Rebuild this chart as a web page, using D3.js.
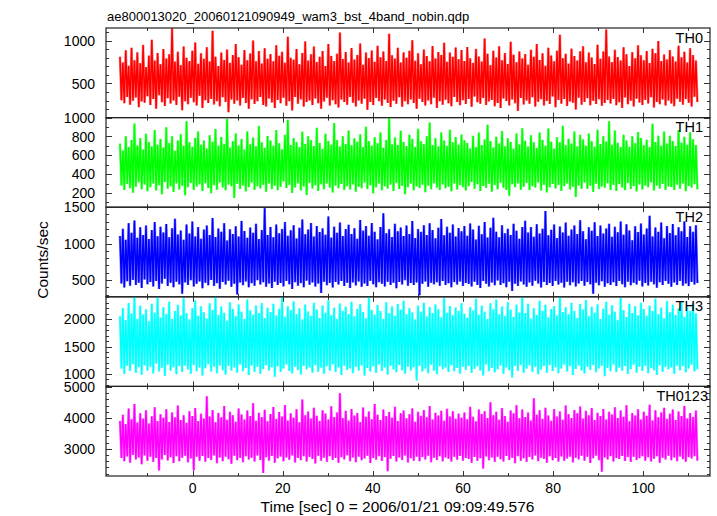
<!DOCTYPE html>
<html>
<head>
<meta charset="utf-8">
<script src="https://cdn.jsdelivr.net/npm/d3@7"></script>
<style>
  html, body { margin: 0; padding: 0; background: #fff; }
  svg { display: block; font-family: "Liberation Sans", Arial, Helvetica, sans-serif; }
</style>
</head>
<body>
<svg id="chart" width="717" height="516"></svg>
<script>
// ---------------- DATA ----------------
const title = "ae800013020_20060121090949_wam3_bst_4band_nobin.qdp";
const xLabel = "Time [sec] 0 = 2006/01/21 09:09:49.576";
const yLabel = "Counts/sec";
const panelNames = ["TH0", "TH1", "TH2", "TH3", "TH0123"];
const timeStart = -16.1, timeEnd = 112.0;
const xTickLabels = [0, 20, 40, 60, 80, 100];

const th0 = [
812,304,745,268,889,342,706,251,918,297,771,336,864,223,738,288,952,274,693,351,
826,247,1012,318,768,205,857,362,724,281,903,236,793,327,842,266,1146,301,757,248,
871,345,712,186,934,293,802,258,763,334,884,279,981,243,731,356,853,214,788,303,
924,272,757,318,1118,254,814,292,703,232,862,339,776,284,897,162,741,313,834,262,
963,301,806,243,718,329,893,271,772,203,851,314,1004,259,761,291,879,342,733,248,
912,231,788,325,846,278,759,214,947,306,824,268,872,333,742,238,1048,292,801,183,
779,341,903,262,724,314,858,229,993,283,769,301,843,247,932,324,751,268,812,205,
881,289,704,333,962,241,823,305,762,257,849,218,1097,311,787,283,868,252,746,343,
914,274,781,231,834,302,968,263,719,322,863,193,798,284,887,249,754,331,942,292,
806,238,873,313,762,271,1083,224,831,297,793,263,918,339,744,228,864,293,802,256,
884,313,1006,272,767,204,853,321,725,283,897,242,822,301,761,258,938,334,792,214,
869,292,833,251,977,309,754,268,862,233,813,342,921,283,783,244,893,303,764,261,
928,318,796,226,741,347,905,279,817,262,758,331,1026,249,849,288,713,306,884,232,
803,271,937,213,772,324,856,296,729,241,989,312,836,268,747,177,874,329,791,254,
846,301,719,263,894,338,812,229,961,287,774,316,853,243,708,295,917,261,828,348,
761,222,883,307,1071,264,795,319,847,236,732,289,908,273,821,196,769,334,876,251,
935,283,748,327,862,246,803,299,727,261,954,315,789,238,874,272,1132,306,817,265,
752,319,896,244,811,281,768,212,923,336,842,258,703,297,867,231,796,322,948,276,
829,247,772,308,881,266,739,339,907,219,854,284,996,257,763,313,838,241,781,302,
892,266,817,234,758,321,943,287,806,252,871,317,744,275,913,229,832,344,768,283
];
const th1 = [
724,281,652,233,803,297,688,252,761,203,938,268,703,314,782,241,661,292,828,219,
742,263,693,302,868,228,712,284,773,187,683,318,897,247,731,273,802,212,648,301,
757,238,823,279,702,176,962,261,739,308,691,232,784,269,852,293,713,221,758,304,
672,254,812,198,743,283,879,236,701,313,793,258,721,229,987,291,683,272,748,148,
832,298,703,243,772,281,662,218,853,262,718,312,788,234,697,273,912,249,737,288,
681,213,804,301,758,242,702,279,868,231,727,268,663,322,817,253,976,287,709,202,
783,259,742,303,688,228,851,271,719,179,803,309,762,248,698,283,893,222,731,294,
668,241,829,302,752,258,713,207,943,281,761,252,692,297,803,233,719,272,862,238,
707,291,781,213,743,268,822,252,688,311,902,242,752,283,701,198,791,262,728,301,
843,231,679,273,762,248,996,292,718,221,788,309,709,243,861,278,742,188,698,262,
818,302,773,229,687,271,882,253,748,288,721,208,803,279,948,241,708,303,781,258,
692,232,841,292,758,251,702,268,872,219,738,302,793,239,712,282,821,263,759,228,
731,272,672,318,806,246,688,293,842,221,709,276,768,253,923,298,752,214,683,287,
797,241,726,309,858,257,697,233,781,172,742,294,669,263,831,301,714,236,887,268,
753,308,694,232,812,272,739,258,678,313,842,227,763,289,702,207,884,261,744,296,
671,249,792,286,738,221,913,272,706,302,776,238,724,268,852,158,693,281,819,246,
768,312,702,246,831,279,748,211,692,298,872,242,719,271,801,256,747,304,962,233,
712,287,863,223,732,296,689,259,818,231,756,308,691,243,803,274,729,218,848,292,
783,239,706,281,766,262,689,313,934,226,741,279,808,248,702,297,853,234,726,271,
807,264,751,232,698,288,869,246,732,303,796,219,713,276,844,258,771,293,708,241
];
const th2 = [
1104,452,1203,398,1052,483,1281,421,1149,502,1318,433,1081,462,1224,391,1117,508,1249,441,
1063,472,1188,412,1297,487,1102,379,1232,452,1153,519,1268,418,1087,463,1211,402,1342,478,
1124,441,1179,312,1053,468,1262,432,1138,497,1303,411,1098,451,1228,479,1068,388,1193,462,
1247,428,1118,501,1352,419,1091,458,1207,381,1162,472,1281,439,1043,492,1198,409,1133,448,
1238,303,1098,467,1312,428,1172,481,1079,401,1221,458,1148,422,1273,497,1062,438,1187,471,
1487,408,1119,453,1228,392,1087,477,1263,431,1142,459,1202,413,1298,488,1108,442,1183,378,
1252,469,1071,421,1219,458,1331,402,1128,492,1192,437,1283,468,1097,412,1242,453,1158,321,
1209,478,1121,428,1372,461,1082,398,1233,472,1149,439,1291,487,1103,418,1201,463,1258,392,
1131,468,1212,427,1068,481,1323,408,1178,452,1243,419,1109,489,1282,441,1162,402,1058,471,
1228,448,1418,412,1141,477,1197,432,1092,462,1272,389,1168,473,1221,438,1103,498,1248,423,
1132,459,1309,431,1078,468,1201,292,1161,451,1253,482,1118,409,1279,462,1187,441,1072,469,
1219,421,1338,488,1113,433,1232,457,1148,401,1261,472,1097,439,1213,481,1168,418,1242,461,
1108,447,1276,411,1193,476,1057,432,1244,391,1129,487,1297,448,1083,412,1218,467,1356,428,
1164,493,1087,431,1251,458,1142,402,1203,476,1118,349,1272,449,1177,418,1066,481,1229,439,
1313,407,1152,468,1228,423,1093,491,1267,452,1139,399,1204,473,1448,432,1116,461,1189,417,
1262,486,1078,439,1236,462,1151,398,1288,478,1109,428,1192,469,1247,413,1133,452,1321,487,
1168,421,1059,472,1224,441,1177,311,1292,463,1103,428,1248,483,1138,409,1206,456,1271,431,
1093,469,1232,418,1157,487,1303,442,1121,401,1264,476,1181,429,1047,462,1238,438,1159,491,
1277,412,1126,459,1208,427,1382,478,1098,441,1222,393,1161,469,1289,432,1072,486,1243,449,
1147,408,1268,467,1113,431,1226,488,1171,421,1302,453,1089,417,1237,472,1164,438,1253,459
];
const th3 = [
2052,1098,2203,1002,1983,1148,2297,1053,2104,1177,2418,1021,2003,1122,2248,982,2081,1158,2183,1061,
1962,1132,2282,1008,2118,1188,2402,1043,2032,1112,2219,961,2093,1168,2318,1058,2004,1121,2148,992,
2263,1142,2068,1032,2381,1151,2108,1079,1992,1003,2198,1162,2342,1048,2062,1118,2238,972,2128,1102,
2013,1178,2291,1041,2168,1128,2432,1012,2078,1153,2232,1068,2118,988,1972,1142,2308,1062,2188,1118,
2052,1022,2268,1171,2138,1048,2003,1108,2362,978,2158,1152,2083,1038,2251,1132,2112,1002,2298,1088,
2023,1158,2208,1062,2132,1121,2282,948,2068,1138,2192,1032,2412,1098,2042,1172,2238,1052,2162,1008,
2328,1131,2088,1072,2202,988,1993,1148,2268,1082,2142,1118,2058,1022,2302,1158,2178,1038,2022,1112,
2252,1002,2118,1141,2348,1058,2072,1178,2208,1032,2002,1118,2288,978,2152,1148,2228,1072,2088,1098,
2318,1012,2052,1128,2188,1062,2272,1158,2132,968,2018,1108,2422,1042,2168,1138,2082,1018,2258,1172,
2148,1052,2003,1118,2312,988,2108,1148,2232,1082,2062,1028,2278,1162,2172,1068,2338,1002,2092,1128,
2198,1058,2128,1122,1992,878,2252,1148,2138,1042,2302,1098,2048,1012,2222,1168,2112,1058,2268,992,
2182,1138,2032,1082,2388,1118,2118,1032,2242,1158,2072,1048,2212,1108,2148,1002,2292,1128,2098,1072,
2028,1148,2218,1018,2158,1092,2372,1138,2082,1062,2248,968,2138,1172,2002,1048,2292,1108,2178,1028,
2358,1082,2092,1152,2232,1002,2058,1118,2312,1068,2172,932,2042,1142,2262,1052,2122,1168,2408,1022,
2112,1098,2282,1158,2008,1038,2198,1128,2078,992,2338,1078,2152,1142,2262,1018,2032,1162,2188,1052,
2242,1122,2068,1012,2428,1098,2132,1172,2218,1042,2092,1138,2302,978,2148,1088,2022,1152,2278,1062,
2178,1008,2352,1132,2052,1072,2228,1162,2118,1028,2268,1098,2002,1148,2192,958,2318,1112,2082,1048,
2258,1172,2138,1032,1982,1118,2392,1058,2162,1142,2038,998,2282,1088,2112,1168,2238,1022,2072,1128,
2302,1052,2188,1148,2062,1012,2248,1108,2148,1068,2372,978,2092,1158,2212,1038,2018,1128,2332,1082,
2128,1118,2262,1002,2078,1152,2198,1062,2322,1138,2042,1028,2232,1098,2152,1168,2288,1042,2108,1082
];
const th0123 = [
3902,2703,4098,2602,3798,2752,4302,2548,3952,2801,4448,2652,3852,2718,4152,2502,3978,2782,4248,2618,
3822,2741,4052,2578,4348,2702,3898,2302,4118,2658,4002,2798,4282,2622,3868,2728,4178,2542,4022,2758,
4402,2598,3928,2712,4082,2778,3842,2562,4218,2688,4062,2298,4322,2742,3902,2618,4138,2772,3982,2582,
4698,2702,4042,2638,4252,2788,3858,2532,4162,2718,4018,2602,4382,2748,3938,2662,4198,2518,4082,2778,
3878,2628,4302,2702,4112,2568,3948,2758,4238,2652,4058,2712,4478,2588,3908,2782,4168,2638,4028,2218,
4262,2728,3888,2612,4128,2768,4352,2552,3968,2692,4188,2748,4048,2602,4418,2718,3918,2648,4152,2788,
4008,2558,4278,2702,3858,2628,4598,2762,4088,2588,4208,2738,3978,2668,4328,2522,4068,2778,3898,2618,
4248,2712,4138,2578,3948,2758,4378,2638,4028,2702,4178,2548,4798,2728,3998,2658,4228,2792,3918,2598,
4288,2718,4078,2568,4158,2748,3868,2628,4338,2688,4038,2778,4208,2538,3958,2702,4448,2648,4098,2758,
3928,2608,4268,2732,4058,2278,4188,2678,4008,2768,4358,2588,3898,2718,4148,2642,4238,2788,3988,2558,
4118,2698,4308,2618,3878,2748,4198,2598,4068,2732,4258,2658,4018,2778,4388,2568,3948,2708,4168,2638,
4078,2762,4228,2598,3908,2722,4298,2678,4048,2588,4218,2742,3968,2648,4138,2772,4008,2618,4178,2702,
3958,2672,4362,2552,4038,2738,3888,2612,4272,2698,4128,2362,4218,2752,3998,2632,4508,2718,4088,2578,
4198,2742,3938,2662,4318,2588,4058,2772,3878,2642,4238,2708,4148,2532,4408,2758,3988,2618,4268,2692,
4028,2578,4178,2738,3918,2652,4638,2782,4098,2598,4248,2712,3968,2668,4328,2548,4078,2762,3908,2632,
4288,2702,4048,2588,4208,2752,3938,2618,4398,2688,4118,2748,3998,2562,4258,2712,4148,2658,4368,2778,
3978,2612,4228,2742,4088,2538,4318,2698,3928,2778,4168,2628,4058,2258,4288,2718,3948,2652,4198,2758,
4108,2588,4348,2702,3998,2668,4238,2768,4038,2608,4412,2732,3888,2578,4158,2742,4078,2638,4278,2698,
3948,2758,4198,2618,4068,2728,4428,2592,3918,2682,4248,2762,4018,2548,4178,2712,4328,2652,3968,2778,
4138,2632,4268,2722,3928,2598,4208,2748,4058,2662,4388,2582,3978,2732,4158,2688,4028,2762,4238,2618
];
const seriesValues = [th0, th1, th2, th3, th0123];
const seriesColors = ["#ff0000", "#00ff00", "#0000ff", "#00ffff", "#ff00ff"];
const yDomains = [[100, 1150], [50, 1000], [270, 1500], [770, 2410], [2120, 5020]];
const yTickLabels = [[500, 1000], [200, 400, 600, 800, 1000], [500, 1000, 1500], [1000, 1500, 2000], [3000, 4000, 5000]];
const yMinorSteps = [100, 100, 100, 100, 200];

// ---------------- LAYOUT ----------------
const L = 106, R = 710, T = 28, B = 476;
const nP = 5, pH = (B - T) / nP;
const svg = d3.select("#chart");

const x = d3.scaleLinear().domain([-19.2, 114.8]).range([L, R]);

svg.append("text").attr("x", 107).attr("y", 20.5)
  .attr("font-size", 13).attr("fill", "#000").text(title);

const defs = svg.append("defs");

seriesValues.forEach((vals, i) => {
  const top = T + i * pH, bot = top + pH;
  const y = d3.scaleLinear().domain(yDomains[i]).range([bot, top]);
  const g = svg.append("g");

  defs.append("clipPath").attr("id", "clip" + i)
    .append("rect").attr("x", L).attr("y", top).attr("width", R - L).attr("height", pH);

  const tScale = d3.scaleLinear().domain([0, vals.length - 1]).range([timeStart, timeEnd]);
  const line = d3.line().x((d, k) => x(tScale(k))).y(d => y(d));
  const gd = g.append("g").attr("clip-path", "url(#clip" + i + ")");
  // soft halo for the anti-aliased look of the dense light curve
  gd.append("path").datum(vals)
    .attr("d", line)
    .attr("fill", "none")
    .attr("stroke", seriesColors[i])
    .attr("stroke-opacity", 0.45)
    .attr("stroke-width", 2.6)
    .attr("stroke-linejoin", "bevel");
  gd.append("path").datum(vals)
    .attr("d", line)
    .attr("fill", "none")
    .attr("stroke", seriesColors[i])
    .attr("stroke-width", 1.5)
    .attr("stroke-linejoin", "bevel");

  // y ticks (minor + major), left and right, inward
  const [d0, d1] = yDomains[i];
  const step = yMinorSteps[i];
  const minor = d3.range(Math.ceil(d0 / step) * step, d1 + 0.001, step);
  minor.forEach(v => {
    const major = yTickLabels[i].includes(v);
    const len = major ? 6 : 3;
    const yy = Math.round(y(v)) + 0.5;
    g.append("line").attr("x1", L).attr("x2", L + len).attr("y1", yy).attr("y2", yy)
      .attr("stroke", "#333").attr("stroke-width", 1);
    g.append("line").attr("x1", R - len).attr("x2", R).attr("y1", yy).attr("y2", yy)
      .attr("stroke", "#333").attr("stroke-width", 1);
  });
  yTickLabels[i].forEach(v => {
    g.append("text").attr("x", 95).attr("y", y(v)).attr("dy", "0.36em")
      .attr("text-anchor", "end").attr("font-size", 14).attr("fill", "#000").text(v);
  });

  // x ticks top and bottom, inward
  d3.range(-10, 111, 10).forEach(t => {
    const major = t % 20 === 0;
    const len = major ? 5 : 3;
    const xx = Math.round(x(t)) + 0.5;
    g.append("line").attr("x1", xx).attr("x2", xx).attr("y1", top).attr("y2", top + len)
      .attr("stroke", "#333");
    g.append("line").attr("x1", xx).attr("x2", xx).attr("y1", bot - len).attr("y2", bot)
      .attr("stroke", "#333");
  });

  // frame
  g.append("rect").attr("x", L).attr("y", top).attr("width", R - L).attr("height", pH)
    .attr("fill", "none").attr("stroke", "#222").attr("stroke-width", 1.2);

  // panel label
  const isLast = i === nP - 1;
  g.append("text").attr("x", isLast ? 708 : 703).attr("y", top + 14.5)
    .attr("text-anchor", "end").attr("font-size", 14.5).attr("fill", "#000")
    .text(panelNames[i]);
});

// x tick labels
xTickLabels.forEach(t => {
  svg.append("text").attr("x", x(t)).attr("y", 493).attr("text-anchor", "middle")
    .attr("font-size", 14).attr("fill", "#000").text(t);
});

svg.append("text").attr("x", 397.5).attr("y", 512).attr("text-anchor", "middle")
  .attr("font-size", 15.5).attr("fill", "#000").text(xLabel);

svg.append("text").attr("transform", "translate(48,260) rotate(-90)")
  .attr("text-anchor", "middle").attr("font-size", 15.5).attr("fill", "#000").text(yLabel);
</script>
</body>
</html>
